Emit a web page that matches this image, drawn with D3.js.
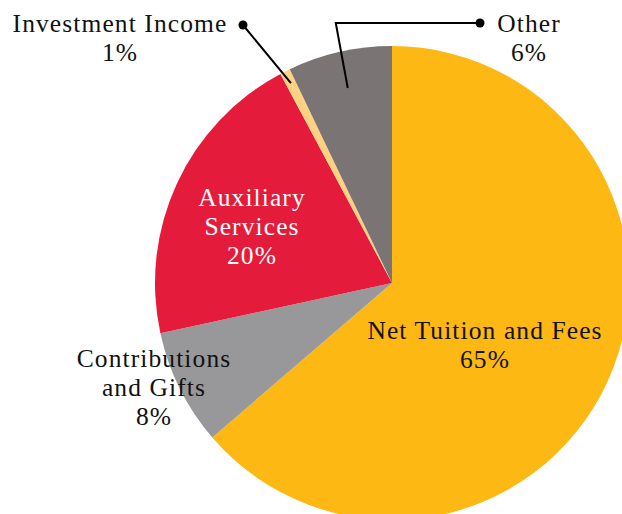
<!DOCTYPE html>
<html>
<head>
<meta charset="utf-8">
<script src="https://cdn.jsdelivr.net/npm/d3@7"></script>
<style>
  body { margin: 0; background: white; }
  text { font-family: "Liberation Serif", "Times New Roman", serif; font-size: 25.5px; letter-spacing: 1.1px; }
</style>
</head>
<body>
<div class="chart"></div>
<script>
// slices clockwise from 12 o'clock
var categories = ['Net Tuition and Fees', 'Contributions and Gifts', 'Auxiliary Services',
    'Investment Income', 'Other'];
var shares = [63.7, 7.9, 20.6, 0.7, 7.1];   // as drawn
var pctLabels = ['65%', '8%', '20%', '1%', '6%'];

var colorKey = {
    "Net Tuition and Fees": "#FDB813",
    "Contributions and Gifts": "#98989A",
    "Auxiliary Services": "#E51B3B",
    "Investment Income": "#FED280",
    "Other": "#7A7574"
}

var width = 622, height = 514;
var cx = 392, cy = 283, radius = 237;

var svg = d3.select(".chart")
    .append("svg")
    .attr("width", width)
    .attr("height", height)

var g = svg.append("g")
    .attr("transform", "translate(" + cx + "," + cy + ")")

var pie = d3.pie().sort(null).value(function(d) { return d.value; });
var arc = d3.arc().innerRadius(0).outerRadius(radius);

var slices = pie(categories.map(function(c, i) {
    return { name: c, value: shares[i], pct: pctLabels[i] };
}))

g.selectAll(".slice")
    .data(slices)
    .enter().append("path")
    .attr("class", "slice")
    .attr("d", arc)
    .attr("fill", function(d) { return colorKey[d.data.name]; })

// point at a radius along the middle of a slice
function midPoint(d, r) {
    return d3.arc().innerRadius(r).outerRadius(r).centroid(d);
}

// label layout (relative to pie centre)
var labelLayout = {
    "Net Tuition and Fees": { x: 93, y: 56, lines: ["Net Tuition and Fees"], fill: "#111" },
    "Contributions and Gifts": { x: -238, y: 84, lines: ["Contributions", "and Gifts"], fill: "#111" },
    "Auxiliary Services": { x: -140, y: -77, lines: ["Auxiliary", "Services"], fill: "white" },
    "Investment Income": { x: -272, y: -251, lines: ["Investment Income"], fill: "#111" },
    "Other": { x: 137, y: -251, lines: ["Other"], fill: "#111" }
}

var lineH = 29;

slices.forEach(function(d) {
    var L = labelLayout[d.data.name];
    var t = g.append("text")
        .attr("x", L.x)
        .attr("y", L.y)
        .attr("fill", L.fill)
        .style("text-anchor", "middle")
    L.lines.concat([d.data.pct]).forEach(function(s, i) {
        t.append("tspan")
            .attr("x", L.x)
            .attr("dy", i == 0 ? 0 : lineH)
            .text(s)
    })
})

// leader lines for the two thin slices
var inv = slices[3], oth = slices[4];
var invEnd = midPoint(inv, 224);
var invDot = [-149, -258];
g.append("path")
    .attr("d", d3.line()([invDot, invEnd]))
    .attr("fill", "none")
    .attr("stroke", "black")
    .attr("stroke-width", 2)
g.append("circle")
    .attr("cx", invDot[0]).attr("cy", invDot[1]).attr("r", 4.5)
    .attr("fill", "black")

var othEnd = midPoint(oth, 200);
var othDot = [88, -260];
g.append("path")
    .attr("d", d3.line()([othDot, [othEnd[0] - 12, othDot[1]], othEnd]))
    .attr("fill", "none")
    .attr("stroke", "black")
    .attr("stroke-width", 2)
g.append("circle")
    .attr("cx", othDot[0]).attr("cy", othDot[1]).attr("r", 4.5)
    .attr("fill", "black")
</script>
</body>
</html>
